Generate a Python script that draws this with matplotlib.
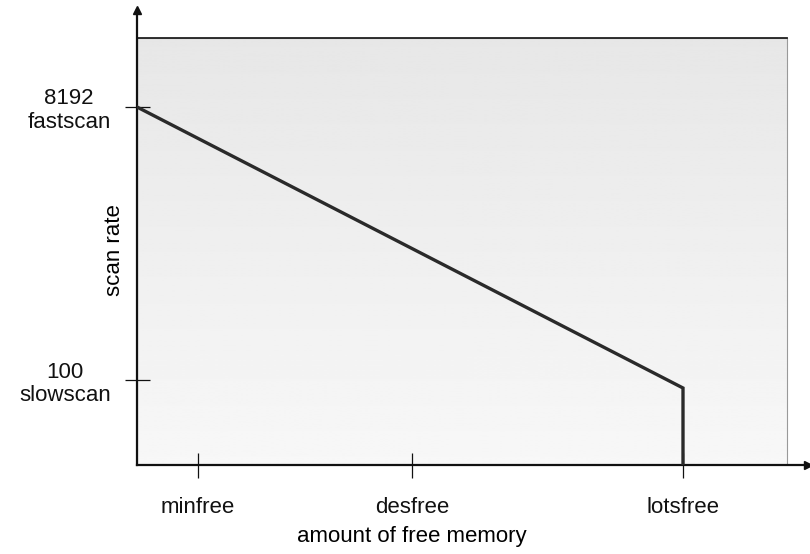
import matplotlib.pyplot as plt
import numpy as np
from matplotlib.patches import Rectangle

plt.rcParams["font.family"] = ["Liberation Sans", "DejaVu Sans"]

# free memory thresholds (arbitrary units along the x axis)
free_names = ["minfree", "desfree", "lotsfree"]
free_values = [61, 275, 546]

# scan rate levels (arbitrary units along the y axis)
rate_names = ["8192\nfastscan", "100\nslowscan"]
rate_values = [358, 85]

# scan rate curve
curve_x = [0, 546, 546]
curve_y = [358, 77, 0]

# shaded region and axis extents
shade_right = 650
shade_top = 427
x_max = 671
y_max = 455

fig = plt.figure(figsize=(8.1, 5.54), dpi=100)
ax = fig.add_axes([137 / 810, 89 / 554, 671 / 810, 455 / 554])
ax.set_xlim(0, x_max)
ax.set_ylim(0, y_max)

# stippled grey background approximated with a vertical gradient
grad = np.linspace(0.97, 0.905, 256).reshape(-1, 1)
ax.imshow(
    grad,
    cmap="gray",
    vmin=0,
    vmax=1,
    extent=(0, shade_right, 0, shade_top),
    origin="lower",
    aspect="auto",
    zorder=0,
)
ax.add_patch(
    Rectangle((0, 0), shade_right, shade_top, fill=False, edgecolor="#999999", lw=0.8, zorder=1)
)
ax.plot([0, shade_right], [shade_top, shade_top], color="#222222", lw=1.3, zorder=2)

ax.plot(curve_x, curve_y, color="#2a2a2a", lw=2.4, solid_joinstyle="miter", zorder=3)

for side in ("top", "right"):
    ax.spines[side].set_visible(False)
for side in ("left", "bottom"):
    ax.spines[side].set_linewidth(1.6)
    ax.spines[side].set_color("#111111")

# arrow heads
ax.plot(1, 0, ">", color="#111111", ms=6, transform=ax.transAxes, clip_on=False)
ax.plot(0, 1, "^", color="#111111", ms=6, transform=ax.transAxes, clip_on=False)

ax.set_xticks(free_values)
ax.set_xticklabels(free_names)
ax.set_yticks(rate_values)
ax.set_yticklabels(rate_names, multialignment="center", linespacing=1.15)
ax.tick_params(axis="both", direction="inout", length=18, width=0.9, colors="#111111",
               labelsize=16)
ax.tick_params(axis="x", pad=14)
ax.tick_params(axis="y", pad=10)

ax.set_xlabel("amount of free memory", fontsize=16, va="center")
ax.xaxis.set_label_coords(0.41, -0.158)
ax.set_ylabel("scan rate", fontsize=16, va="center")
ax.yaxis.set_label_coords(-0.033, 0.4725)

plt.savefig("out.png", dpi=100)
plt.close()
